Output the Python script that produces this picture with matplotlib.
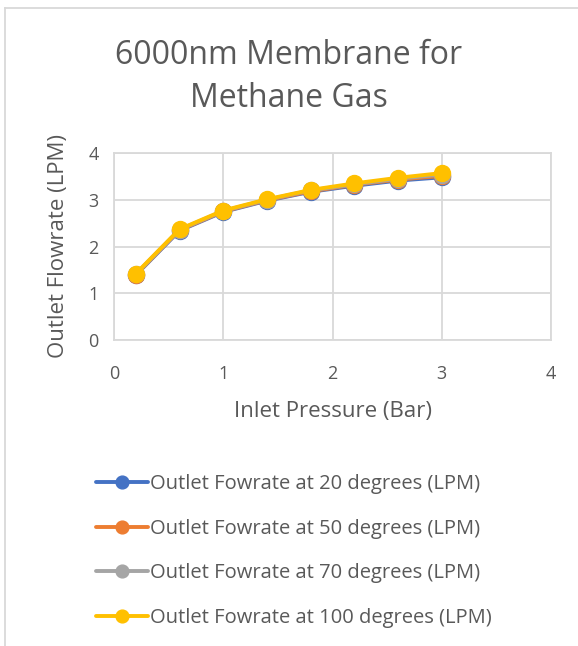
import matplotlib.pyplot as plt
from matplotlib.lines import Line2D

plt.rcParams['font.family'] = ['Open Sans', 'DejaVu Sans']

# inlet pressure (bar) and outlet flowrate (LPM) at each temperature
pressure = [0.2, 0.6, 1.0, 1.4, 1.8, 2.2, 2.6, 3.0]
flow_20 = [1.39, 2.34, 2.74, 2.98, 3.17, 3.30, 3.41, 3.48]
flow_50 = [1.40, 2.35, 2.75, 2.99, 3.18, 3.32, 3.43, 3.51]
flow_70 = [1.41, 2.36, 2.76, 3.00, 3.20, 3.33, 3.45, 3.54]
flow_100 = [1.42, 2.37, 2.77, 3.01, 3.21, 3.35, 3.47, 3.57]

series = [
    ("Outlet Fowrate at 20 degrees (LPM)", flow_20, "#4472c4"),
    ("Outlet Fowrate at 50 degrees (LPM)", flow_50, "#ed7d31"),
    ("Outlet Fowrate at 70 degrees (LPM)", flow_70, "#a5a5a5"),
    ("Outlet Fowrate at 100 degrees (LPM)", flow_100, "#ffc000"),
]

txt = "#595959"
grid = "#d9d9d9"

fig = plt.figure(figsize=(5.78, 6.46), dpi=100)
ax = fig.add_axes([114/578, 1 - 340/646, (551-114)/578, (340-153)/646])

for label, vals, col in series:
    ax.plot(pressure, vals, color=col, lw=2.8, marker="o", ms=11.5,
            label=label, solid_capstyle="round", zorder=3)

ax.set_xlim(0, 4)
ax.set_ylim(0, 4)
ax.set_xticks([0, 1, 2, 3, 4])
ax.set_yticks([0, 1, 2, 3, 4])
ax.grid(True, color=grid, lw=1.3)
ax.set_axisbelow(True)
for s in ax.spines.values():
    s.set_color(grid)
    s.set_linewidth(1.3)
ax.tick_params(length=0, labelsize=13, colors=txt)
ax.tick_params(axis="x", pad=18)
ax.tick_params(axis="y", pad=11)

ax.set_xlabel("Inlet Pressure (Bar)", fontsize=16, color=txt, labelpad=13)
ax.set_ylabel("Outlet Flowrate (LPM)", fontsize=16, color=txt, labelpad=14)

fig.text(0.5, 1 - 77/646, "6000nm Membrane for\nMethane Gas", ha="center", va="center",
         fontsize=23, color=txt, linespacing=1.4)

ax.legend(loc="upper left", bbox_to_anchor=(88/578, 1 - 466/646),
          bbox_transform=fig.transFigure, frameon=False, fontsize=14.5,
          labelcolor=txt, handlelength=2.6, handletextpad=0.1, labelspacing=1.22,
          markerscale=0.8, borderaxespad=0)

# outer chart border
fig.add_artist(Line2D([5/578, 5/578], [0, 1 - 8/646], transform=fig.transFigure, color=grid, lw=1.3))
fig.add_artist(Line2D([5/578, 1], [1 - 8/646, 1 - 8/646], transform=fig.transFigure, color=grid, lw=1.3))

fig.savefig("out.png", dpi=100)
